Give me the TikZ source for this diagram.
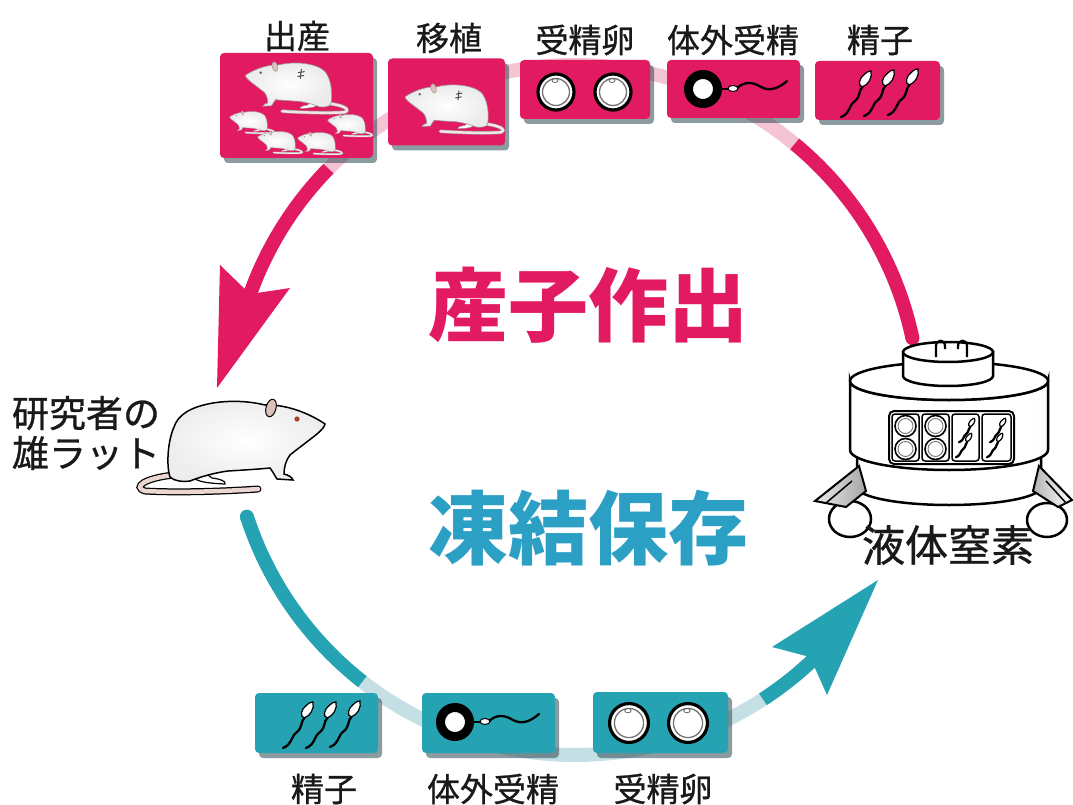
\documentclass[tikz,border=0pt]{standalone}
\usepackage{fontspec}
\setmainfont{Noto Sans CJK JP}
\newfontface\lblface{Noto Sans CJK JP}[FakeBold=0.8]
\usetikzlibrary{shadows}

\definecolor{rpink}{RGB}{226,26,98}
\definecolor{rpinkl}{RGB}{244,196,210}
\definecolor{rteal}{RGB}{38,163,178}
\definecolor{rteall}{RGB}{196,224,229}
\definecolor{tteal}{RGB}{44,160,196}
\definecolor{shadowc}{RGB}{45,72,82}
\definecolor{ratear}{RGB}{220,192,186}
\definecolor{rattail}{RGB}{236,214,210}
\definecolor{rateye}{RGB}{175,62,40}

\pgfdeclarehorizontalshading{tankshade}{100bp}{color(0bp)=(black!65); color(10bp)=(black!25); color(24bp)=(white); color(72bp)=(white); color(90bp)=(black!18); color(100bp)=(black!55)}

\tikzset{
  pinkbox/.style={fill=rpink, rounded corners=4pt, inner sep=0pt,
    drop shadow={shadow xshift=4pt, shadow yshift=-5pt, fill=shadowc, opacity=0.55}},
  tealbox/.style={fill=rteal, rounded corners=4pt, inner sep=0pt,
    drop shadow={shadow xshift=4pt, shadow yshift=-5pt, fill=shadowc, opacity=0.55}},
  lbl/.style={inner sep=0pt, text=black!90, font=\lblface\fontsize{33}{36}\selectfont},
  bigtitle/.style={inner sep=0pt, font=\fontsize{80}{84}\selectfont\bfseries},
  ring/.style={line width=14pt},
  % rat parts, overridable per use
  rat body/.style={draw=black, line width=1.5pt, inner color=white, outer color=black!7},
  rat foot/.style={draw=black, line width=1.2pt, fill=white},
  rat tail out/.style={draw=black, line width=7pt, line cap=round},
  rat tail in/.style={draw=rattail, line width=4.5pt, line cap=round},
  rat ear/.style={draw=black, line width=1pt, fill=ratear},
  rat eye/.style={fill=rateye},
  pics/rat/.style={code={
    % tail
    \path[rat tail out] (-66,30) .. controls (-95,33) and (-108,42) .. (-95,46)
       .. controls (-60,48) and (-10,46) .. (18,44);
    \path[rat tail in] (-66,30) .. controls (-95,33) and (-108,42) .. (-95,46)
       .. controls (-60,48) and (-10,46) .. (18,44);
    % hind foot
    \path[rat foot] (-52,28) .. controls (-45,37) and (-35,38) .. (-15,39)
       .. controls (-14,36) and (-20,34) .. (-28,33) -- (-40,24) -- cycle;
    % body
    \path[rat body] (85,-21) .. controls (72,-30) and (48,-41) .. (25,-40)
       .. controls (5,-45) and (-15,-44) .. (-27,-42)
       .. controls (-50,-38) and (-62,-30) .. (-66,-18)
       .. controls (-72,-5) and (-74,20) .. (-70,32)
       .. controls (-66,36) and (-58,37) .. (-50,36)
       .. controls (-35,30) and (-20,27) .. (-12,26)
       .. controls (5,25) and (20,24) .. (30,23)
       .. controls (33,27) and (35,31) .. (37,34)
       -- (53,35)
       .. controls (52,32) and (48,30) .. (44,29)
       .. controls (44,22) and (46,15) .. (50,10)
       .. controls (56,5) and (63,0) .. (68,-4)
       .. controls (76,-10) and (84,-16) .. (85,-21) -- cycle;
    % ear and eye
    \path[rat ear, rotate around={-15:(31,-37)}] (31,-37) ellipse [x radius=5, y radius=9];
    \path[rat eye] (57,-26) circle (2.6);
  }},
  pics/stitch/.style={code={
    \draw[black!70, line width=1pt] (-17,-33) -- (-15,-15) (-23,-28) -- (-11,-26) (-22,-21) -- (-10,-19);
  }},
  pics/sperm/.style={code={
    \draw[black, line width=2.3pt, line cap=round] (-1,6) .. controls (-6,11) and (-3,16) .. (-9,21)
       .. controls (-16,26) and (-13,33) .. (-23,37);
    \filldraw[fill=white, draw=black, line width=1.2pt, rotate=-22] (3,-11) .. controls (7,-6) and (6,3) .. (1,7)
       .. controls (-4,8) and (-5,0) .. (-2,-5) .. controls (-1,-8) and (1,-10) .. (3,-11) -- cycle;
  }},
  pics/egg/.style={code={
    \filldraw[fill=white, draw=black, line width=3.2pt] (0,0) circle (18);
    \draw[black!55, line width=1.3pt] (0,0) circle (13.5);
    \draw[black!60, line width=0.8pt] (-1,-11.5) ellipse [x radius=3, y radius=2];
  }},
  pics/ivf/.style={code={
    \filldraw[fill=white, draw=black, line width=9pt] (0,0) circle (14.5);
    \draw[black, line width=1.3pt] (19,0) -- (27,0);
    \draw[black, line width=2.3pt, line cap=round] (34,-1) .. controls (42,-8) and (50,-7) .. (58,-2)
       .. controls (67,3) and (76,-1) .. (84,-8);
    \filldraw[fill=white, draw=black, line width=1pt] (30,-0.5) ellipse [x radius=5, y radius=3];
  }}
}

\begin{document}
\begin{tikzpicture}[x=1pt, y=-1pt]
\useasboundingbox (0,0) rectangle (1073,805);

% ---------- cycle arcs (centre 575,410, radius 345) ----------
% upper arc: production
\draw[ring, rpink] plot[domain=-12:-50.5, samples=30] ({575+345*cos(\x)},{410+345*sin(\x)});
\fill[rpink] ({575+345*cos(-12)},{410+345*sin(-12)}) circle (7);
\draw[ring, rpinkl] plot[domain=-50.5:-135.6, samples=60] ({575+345*cos(\x)},{410+345*sin(\x)});
\draw[ring, rpink] plot[domain=-135.6:-163, samples=20] ({575+345*cos(\x)},{410+345*sin(\x)});
\fill[rpink] (217,388) -- (220,265) -- (250,294) -- (290,288) -- cycle;

% lower arc: cryopreservation
\draw[ring, rteal] plot[domain=162:128, samples=25] ({575+345*cos(\x)},{410+345*sin(\x)});
\fill[rteal] ({575+345*cos(162)},{410+345*sin(162)}) circle (7);
\draw[ring, rteall] plot[domain=128:57, samples=50] ({575+345*cos(\x)},{410+345*sin(\x)});
\draw[ring, rteal] plot[domain=57:44, samples=12] ({575+345*cos(\x)},{410+345*sin(\x)});
\fill[rteal] (878,580) -- (772,647) -- (810,657) -- (827,695) -- cycle;

% ---------- titles ----------
\node[bigtitle, text=rpink] (tProd) at (588,305) {産子作出};
\node[bigtitle, text=tteal] (tFreeze) at (588,528) {凍結保存};

% ---------- top row ----------
\node[pinkbox, minimum width=153pt, minimum height=105pt] (bBirth) at (296.5,105.5) {};
\node[pinkbox, minimum width=117pt, minimum height=87pt] (bTrans) at (446.5,102) {};
\node[pinkbox, minimum width=130pt, minimum height=59pt] (bEggT) at (585,89.5) {};
\node[pinkbox, minimum width=133pt, minimum height=58pt] (bIvfT) at (733.5,89) {};
\node[pinkbox, minimum width=125pt, minimum height=59pt] (bSpT) at (877.5,90.5) {};

\node[lbl] (lBirth) at (297,36) {出産};
\node[lbl] (lTrans) at (449,38) {移植};
\node[lbl] (lEggT) at (585,40) {受精卵};
\node[lbl] (lIvfT) at (733,40) {体外受精};
\node[lbl] (lSpT) at (880,40) {精子};

% rats in the birth and transfer boxes
\begin{scope}[rat body/.style={draw=black!40, line width=0.6pt, inner color=white, outer color=black!8},
  rat foot/.style={draw=black!40, line width=0.5pt, fill=white},
  rat tail out/.style={draw=black!40, line width=3.6pt, line cap=round},
  rat tail in/.style={draw=rattail!60, line width=2.4pt, line cap=round},
  rat ear/.style={draw=black!40, line width=0.5pt, fill=ratear},
  rat eye/.style={fill=black!60}]
  \pic[xscale=-0.55, yscale=0.55] at (292,87) {rat};
  \pic[xscale=-0.55, yscale=0.55] at (292,87) {stitch};
  \pic[xscale=-0.53, yscale=0.53] at (450,108) {rat};
  \pic[xscale=-0.53, yscale=0.53] at (450,108) {stitch};
\end{scope}
\begin{scope}[rat body/.style={draw=black!35, line width=0.4pt, inner color=white, outer color=black!8},
  rat foot/.style={draw=black!35, line width=0.3pt, fill=white},
  rat tail out/.style={draw=black!35, line width=2pt, line cap=round},
  rat tail in/.style={draw=rattail!50, line width=1.2pt, line cap=round},
  rat ear/.style={draw=black!35, line width=0.3pt, fill=ratear},
  rat eye/.style={fill=black!50}]
  \pic[xscale=-0.24, yscale=0.24] at (250,122) {rat};
  \pic[xscale=-0.24, yscale=0.24] at (278,142) {rat};
  \pic[xscale=-0.24, yscale=0.24] at (318,143) {rat};
  \pic[xscale=-0.24, yscale=0.24] at (348,125) {rat};
\end{scope}

% eggs, fertilisation, sperm (top)
\pic at (556,92) {egg};
\pic at (613,92) {egg};
\pic at (703,89) {ivf};
\pic at (864,80) {sperm};
\pic at (887,79) {sperm};
\pic at (911,78) {sperm};

% ---------- bottom row ----------
\node[tealbox, minimum width=123pt, minimum height=60pt] (bSpB) at (316.5,723) {};
\node[tealbox, minimum width=133pt, minimum height=60pt] (bIvfB) at (488.5,723) {};
\node[tealbox, minimum width=135pt, minimum height=61pt] (bEggB) at (660.5,722.5) {};

\node[lbl] (lSpB) at (324,789) {精子};
\node[lbl] (lIvfB) at (493,789) {体外受精};
\node[lbl] (lEggB) at (663,789) {受精卵};

\pic at (306,711) {sperm};
\pic at (329,711) {sperm};
\pic at (353,710) {sperm};
\pic at (455,722) {ivf};
\pic[scale=1.08] at (629,723) {egg};
\pic[scale=1.08] at (688,723) {egg};

% ---------- researcher's male rat ----------
\pic at (240,445) {rat};
\node[lbl, align=left, font=\lblface\fontsize{37}{40}\selectfont] (lRat) at (86,433) {研究者の\\雄ラット};

% ---------- liquid nitrogen tank ----------
% wheels
\filldraw[fill=white, draw=black, line width=2.5pt] (850,519) ellipse [x radius=21, y radius=18];
\filldraw[fill=white, draw=black, line width=2.5pt] (1047,520) ellipse [x radius=20, y radius=17];
% lower band
\path[draw=black, line width=2.5pt, shading=tankshade] (857,452) -- (857,487)
   arc[start angle=180, end angle=0, x radius=92, y radius=18] -- (1041,452) -- cycle;
% legs
\filldraw[draw=black, line width=2pt, left color=black!8, right color=black!35] (859,466) -- (815,501) -- (846,507) -- (866,491) -- cycle;
\draw[black, line width=1.5pt] (852,481) -- (826,503);
\filldraw[draw=black, line width=2pt, left color=black!30, right color=white] (1039,466) -- (1072,500) -- (1058,507) -- (1033,491) -- cycle;
\draw[black, line width=1.5pt] (1046,481) -- (1066,503);
% upper body
\path[draw=black, line width=2.5pt, shading=tankshade] (850,381) -- (850,450)
   arc[start angle=180, end angle=0, x radius=99, y radius=20] -- (1048,381)
   arc[start angle=0, end angle=180, x radius=99, y radius=19] -- cycle;
\filldraw[fill=white, draw=black, line width=2.5pt] (949,381) ellipse [x radius=99, y radius=19];
% lid
\path[draw=black, line width=2.5pt, shading=tankshade] (903,352) -- (903,376)
   arc[start angle=180, end angle=0, x radius=45, y radius=10] -- (993,352) -- cycle;
\filldraw[fill=white, draw=black, line width=2.5pt] (948,352) ellipse [x radius=45, y radius=10];
% handles
\draw[black, line width=2.3pt] (936,357) -- (936,346) .. controls (936,339) and (945,339) .. (945,346) -- (945,349);
\draw[black, line width=2.3pt] (958,349) -- (958,346) .. controls (958,339) and (967,339) .. (967,346) -- (967,357);
% storage panel
\filldraw[fill=white, draw=black, line width=2pt, rounded corners=5pt] (889,411) rectangle (1014,464);
\foreach \a/\b in {892/919, 922/949, 952/979, 982/1011}
  \draw[black, line width=1.5pt, rounded corners=3pt] (\a,414) rectangle (\b,461);
\foreach \cx in {905.5, 935.5} {
  \foreach \cy in {426, 449} {
    \filldraw[fill=white, draw=black, line width=1.6pt] (\cx,\cy) circle (10.5);
    \draw[black!55, line width=0.9pt] (\cx,\cy) circle (7.5);
  }
}
\pic[scale=0.52] at (971,423) {sperm};
\pic[scale=0.52] at (968,438) {sperm};
\pic[scale=0.52] at (1002,423) {sperm};
\pic[scale=0.52] at (999,438) {sperm};
\node[lbl, font=\lblface\fontsize{43}{46}\selectfont] (lTank) at (948,545) {液体窒素};

\end{tikzpicture}
\end{document}
